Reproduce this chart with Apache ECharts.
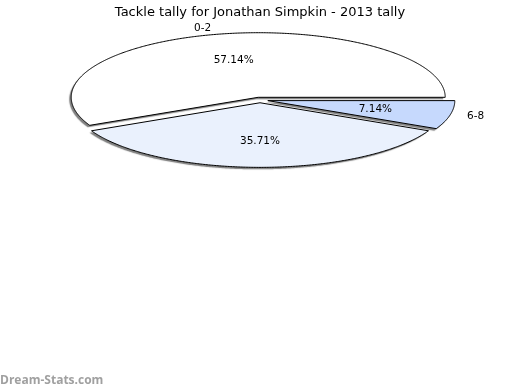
<!DOCTYPE html>
<html><head><meta charset="utf-8">
<script src="https://cdn.jsdelivr.net/npm/echarts@6/dist/echarts.min.js"></script>
<style>html,body{margin:0;padding:0;background:#fff}#c{width:520px;height:390px}</style>
</head><body><div id="c"></div>
<script>
// ---- data ----
const categories = ['0-2', '3-5', '6-8'];
const tallies = [8, 5, 1];
const hiddenOuterLabels = ['3-5'];
const titleText = 'Tackle tally for Jonathan Simpkin - 2013 tally';
const watermarkText = 'Dream-Stats.com';

// ---- styling / layout ----
const sliceColors = ['#ffffff', '#eaf1fd', '#c6d9fd'];
const CX = 260, CY = 100, RX = 187, RY = 64.6, EXPLODE = 8;
const LABEL_FONT = '10.5px "DejaVu Sans"';

const total = tallies.reduce((a, b) => a + b, 0);
let acc = 0;
const seriesData = tallies.map((v, i) => { const row = [i, v, acc]; acc += v; return row; });

function renderItem(params, api) {
  const i = api.value(0), v = api.value(1), before = api.value(2);
  const a0 = before / total * Math.PI * 2;
  const a1 = (before + v) / total * Math.PI * 2;
  const mid = (a0 + a1) / 2;
  const sx = CX + EXPLODE * Math.cos(mid);
  const sy = CY - EXPLODE * Math.sin(mid) * RY / RX;
  const pts = [[sx, sy]];
  const steps = Math.max(2, Math.ceil((a1 - a0) / (Math.PI / 360)));
  for (let s = 0; s <= steps; s++) {
    const t = a0 + (a1 - a0) * s / steps;
    pts.push([sx + RX * Math.cos(t), sy - RY * Math.sin(t)]);
  }
  const pct = (v / total * 100).toFixed(2) + '%';
  const children = [{
    type: 'polygon',
    shape: { points: pts },
    style: {
      fill: sliceColors[i % sliceColors.length],
      shadowBlur: 1, shadowColor: 'rgba(0,0,0,0.5)', shadowOffsetX: -2, shadowOffsetY: 2
    }
  }, {
    type: 'polygon',
    shape: { points: pts },
    style: { fill: 'none', stroke: '#000', lineWidth: 1 }
  }, {
    type: 'text',
    x: sx + 0.59 * RX * Math.cos(mid), y: sy - 0.59 * RY * Math.sin(mid),
    style: { text: pct, fill: '#000', font: LABEL_FONT, align: 'center', verticalAlign: 'middle', textAlign: 'center', textVerticalAlign: 'middle' }
  }];
  const cat = categories[i];
  if (hiddenOuterLabels.indexOf(cat) < 0) {
    children.push({
      type: 'text',
      x: sx + 1.15 * RX * Math.cos(mid) - 8 * Math.abs(Math.sin(mid)), y: sy - 1.10 * RY * Math.sin(mid),
      style: { text: cat, fill: '#000', font: LABEL_FONT, align: 'center', verticalAlign: 'middle', textAlign: 'center', textVerticalAlign: 'middle' }
    });
  }
  return { type: 'group', children };
}

const chart = echarts.init(document.getElementById('c'), null, { renderer: 'canvas' });
chart.setOption({
  animation: false,
  backgroundColor: '#ffffff',
  title: {
    text: titleText, left: 'center', top: 1,
    textStyle: { fontFamily: 'DejaVu Sans', fontSize: 13, fontWeight: 'normal', color: '#000' }
  },
  graphic: [{
    type: 'text', left: 0, bottom: 3,
    style: { text: watermarkText, fill: '#a0a0a0', font: 'bold 12px "Open Sans"' }
  }],
  series: [{
    type: 'custom',
    coordinateSystem: 'none',
    silent: true,
    renderItem,
    data: seriesData
  }]
});
</script>
</body></html>
